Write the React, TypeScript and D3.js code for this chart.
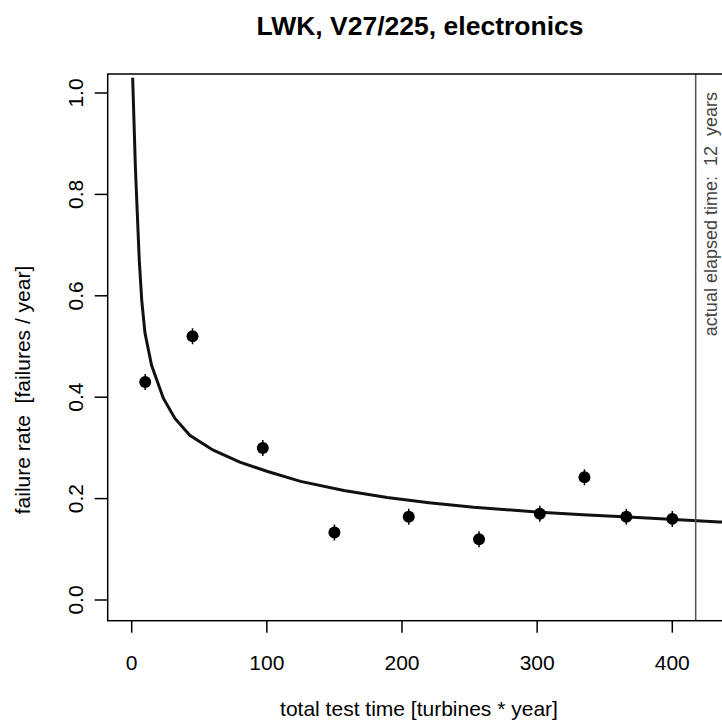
import React from "react";
import * as d3 from "d3";

// observed failure rates (points)
const pointX = [10, 45, 97, 150, 205, 257, 302, 335, 366, 400];
const pointY = [0.43, 0.52, 0.3, 0.133, 0.164, 0.12, 0.17, 0.242, 0.164, 0.16];

// fitted curve
const curveX = [0.7, 2.8, 5.6, 7.4, 9.8, 14.7, 23.4, 32, 43, 60, 80, 100, 125, 157, 189, 220, 253, 302, 334, 371, 408, 435, 445];
const curveY = [1.03, 0.848, 0.67, 0.592, 0.527, 0.463, 0.398, 0.358, 0.325, 0.296, 0.272, 0.254, 0.234, 0.216, 0.202, 0.192, 0.183, 0.173, 0.168, 0.163, 0.158, 0.154, 0.153];

const xTicks = [0, 100, 200, 300, 400];
const yTicks = [0, 0.2, 0.4, 0.6, 0.8, 1.0];
const elapsed = 417.3;

const title = "LWK, V27/225, electronics";
const xLabel = "total test time [turbines * year]";
const yLabel = "failure rate  [failures / year]";
const elapsedLabel = "actual elapsed time:  12  years";

const App = () => {
  const width = 722;
  const height = 722;
  const box = { left: 107.7, right: 730, top: 74, bottom: 620.7 };

  const x = d3.scaleLinear().domain([0, 400]).range([131.7, 672.3]);
  const y = d3.scaleLinear().domain([0, 1]).range([600, 93]);

  const curve = d3
    .line<number>()
    .x((d, i) => x(curveX[i]))
    .y(d => y(d));

  const font = "'Liberation Sans', Arial, sans-serif";

  return (
    <svg
      width={width}
      height={height}
      style={{ position: "absolute", left: 0, top: 0, background: "#fff" }}
      fontFamily={font}
    >
      <defs>
        <clipPath id="plot">
          <rect x={box.left} y={box.top} width={box.right - box.left} height={box.bottom - box.top} />
        </clipPath>
      </defs>

      <text x={420} y={35} textAnchor="middle" fontSize={26.5} fontWeight="bold">
        {title}
      </text>

      <g clipPath="url(#plot)">
        <path d={curve(curveY) || ""} fill="none" stroke="#111" strokeWidth={3} />
        {pointX.map((px, i) => (
          <g key={i}>
            <line x1={x(px)} x2={x(px)} y1={y(pointY[i]) - 8} y2={y(pointY[i]) + 8} stroke="#000" strokeWidth={1.5} />
            <circle cx={x(px)} cy={y(pointY[i])} r={6} fill="#000" />
          </g>
        ))}
        <line x1={x(elapsed)} x2={x(elapsed)} y1={box.top} y2={box.bottom} stroke="#555" strokeWidth={1.5} />
      </g>

      <rect
        x={box.left}
        y={box.top}
        width={box.right - box.left}
        height={box.bottom - box.top}
        fill="none"
        stroke="#000"
        strokeWidth={1.5}
      />

      {xTicks.map(t => (
        <g key={t}>
          <line x1={x(t)} x2={x(t)} y1={box.bottom} y2={box.bottom + 12} stroke="#000" strokeWidth={1.5} />
          <text x={x(t)} y={670} textAnchor="middle" fontSize={21}>
            {t}
          </text>
        </g>
      ))}

      {yTicks.map(t => (
        <g key={t}>
          <line x1={box.left - 13} x2={box.left} y1={y(t)} y2={y(t)} stroke="#000" strokeWidth={1.5} />
          <text
            transform={`translate(82.7,${y(t)}) rotate(-90)`}
            textAnchor="middle"
            fontSize={21}
          >
            {t.toFixed(1)}
          </text>
        </g>
      ))}

      <text x={419} y={716} textAnchor="middle" fontSize={21}>
        {xLabel}
      </text>
      <text
        transform={`translate(30,390) rotate(-90)`}
        textAnchor="middle"
        fontSize={21}
        style={{ whiteSpace: "pre" }}
      >
        {yLabel}
      </text>
      <text
        transform={`translate(717,92) rotate(-90)`}
        textAnchor="end"
        fontSize={18}
        fill="#444"
        style={{ whiteSpace: "pre" }}
      >
        {elapsedLabel}
      </text>
    </svg>
  );
};

export default App;
